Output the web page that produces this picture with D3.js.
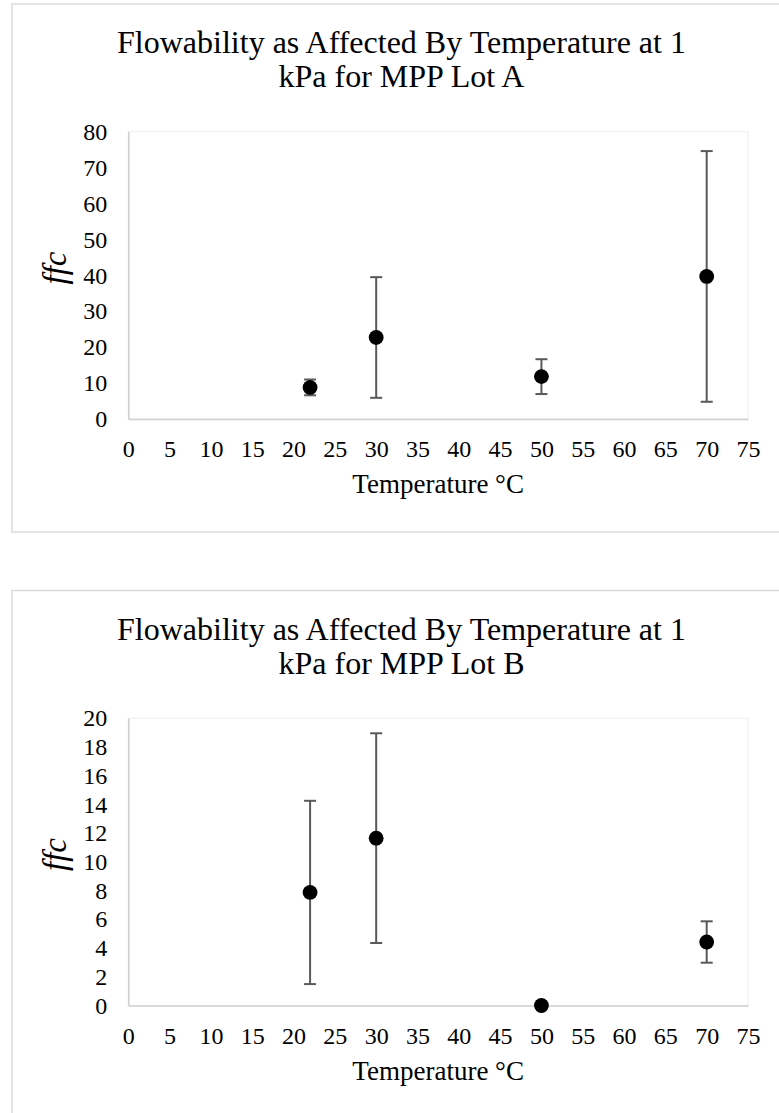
<!DOCTYPE html>
<html>
<head>
<meta charset="utf-8">
<script src="https://cdn.jsdelivr.net/npm/d3@7"></script>
<style>
	body { margin: 0; background: #fff; }
	svg text { font-family: "Liberation Serif", "Times New Roman", serif; fill: #000; }
</style>
</head>
<body>
<svg width="779" height="1113"></svg>
<script>
// values
const temps = [ 22, 30, 50, 70 ];
const lotA = [ 8.8, 22.7, 11.8, 39.7 ];
const lotA_err = [ 2.2, 16.8, 4.85, 34.9 ];
const lotB = [ 7.87, 11.65, 0, 4.42 ];
const lotB_err = [ 6.38, 7.3, 0, 1.44 ];

const xTicks = [ 0, 5, 10, 15, 20, 25, 30, 35, 40, 45, 50, 55, 60, 65, 70, 75 ];
const yTicksA = [ 0, 10, 20, 30, 40, 50, 60, 70, 80 ];
const yTicksB = [ 0, 2, 4, 6, 8, 10, 12, 14, 16, 18, 20 ];

const titleA = [ "Flowability as Affected By Temperature at 1", "kPa for MPP Lot A" ];
const titleB = [ "Flowability as Affected By Temperature at 1", "kPa for MPP Lot B" ];

let svg = d3.select( "svg" );

function chart ( oy, title, vals, errs, yTicks ) {
	let g = svg.append( "g" ).attr( "transform", "translate(0," + oy + ")" );
	let m = { left: 128.3, right: 748, top: 131.7, bottom: 419 };

	let x = d3.scaleLinear().domain( [ 0, 75 ] ).range( [ m.left, m.right ] );
	let y = d3.scaleLinear().domain( d3.extent( yTicks ) ).range( [ m.bottom, m.top ] );

	// chart frame
	g.append( "rect" )
		.attr( "x", 12 ).attr( "y", 4 )
		.attr( "width", 790 ).attr( "height", 528 )
		.attr( "fill", "#fff" )
		.attr( "stroke", "#d9d9d9" )
		.attr( "stroke-width", 1.4 );

	g.append( "rect" )
		.attr( "x", m.left ).attr( "y", m.top )
		.attr( "width", m.right - m.left ).attr( "height", m.bottom - m.top )
		.attr( "fill", "none" )
		.attr( "stroke", "#eef0f8" )
		.attr( "stroke-width", 1.2 );

	g.selectAll( ".title" )
		.data( title )
		.enter().append( "text" )
		.attr( "class", "title" )
		.attr( "x", 401.5 )
		.attr( "y", ( d, i ) => 53 + i * 34 )
		.attr( "text-anchor", "middle" )
		.style( "font-size", "32px" )
		.text( d => d );

	let ax = g.append( "g" )
		.attr( "transform", "translate(0," + m.bottom + ")" )
		.call( d3.axisBottom( x ).tickValues( xTicks ).tickSize( 0 ).tickSizeOuter( 0 ).tickPadding( 21 ) );
	let ay = g.append( "g" )
		.attr( "transform", "translate(" + m.left + ",0)" )
		.call( d3.axisLeft( y ).tickValues( yTicks ).tickSize( 0 ).tickSizeOuter( 0 ).tickPadding( 21 ) );

	[ ax, ay ].forEach( a => {
		a.select( ".domain" ).attr( "stroke", "#d0d0d0" ).attr( "stroke-width", 1.6 );
		a.selectAll( "text" )
			.attr( "fill", "#000" )
			.style( "font-family", "'Liberation Serif', serif" )
			.style( "font-size", "24px" );
	});

	g.append( "text" )
		.attr( "x", ( m.left + m.right ) / 2 )
		.attr( "y", 493 )
		.attr( "text-anchor", "middle" )
		.style( "font-size", "27px" )
		.text( "Temperature °C" );

	g.append( "text" )
		.attr( "transform", "translate(66,268) rotate(-90)" )
		.attr( "text-anchor", "middle" )
		.style( "font-size", "33px" )
		.style( "font-style", "italic" )
		.text( "ffc" );

	let pts = temps.map( ( t, i ) => ({ t, v: vals[i], e: errs[i] }) );

	let bars = g.selectAll( ".err" )
		.data( pts.filter( d => d.e > 0 ) )
		.enter().append( "g" )
		.attr( "class", "err" )
		.attr( "stroke", "#595959" )
		.attr( "stroke-width", 2 );
	bars.append( "line" )
		.attr( "x1", d => x( d.t ) ).attr( "x2", d => x( d.t ) )
		.attr( "y1", d => y( d.v - d.e ) ).attr( "y2", d => y( d.v + d.e ) );
	bars.append( "line" )
		.attr( "x1", d => x( d.t ) - 6 ).attr( "x2", d => x( d.t ) + 6 )
		.attr( "y1", d => y( d.v + d.e ) ).attr( "y2", d => y( d.v + d.e ) );
	bars.append( "line" )
		.attr( "x1", d => x( d.t ) - 6 ).attr( "x2", d => x( d.t ) + 6 )
		.attr( "y1", d => y( d.v - d.e ) ).attr( "y2", d => y( d.v - d.e ) );

	g.selectAll( ".dot" )
		.data( pts )
		.enter().append( "circle" )
		.attr( "class", "dot" )
		.attr( "cx", d => x( d.t ) )
		.attr( "cy", d => y( d.v ) )
		.attr( "r", 7.4 )
		.attr( "fill", "#000" );
}

chart( 0, titleA, lotA, lotA_err, yTicksA );
chart( 586.5, titleB, lotB, lotB_err, yTicksB );
</script>
</body>
</html>
